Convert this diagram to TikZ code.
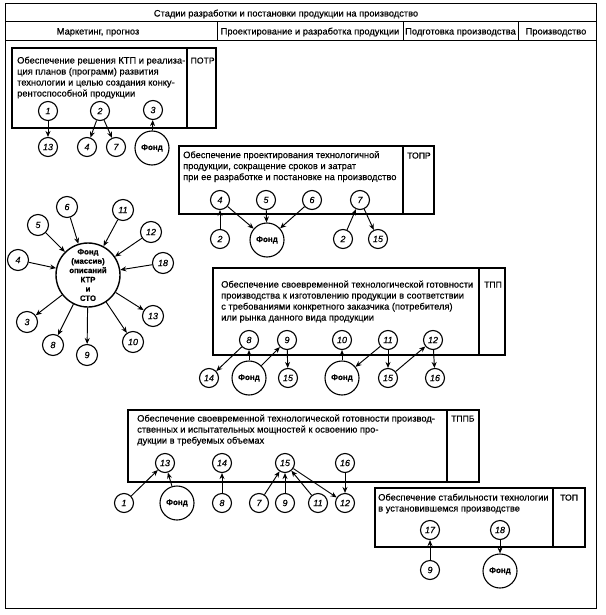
\documentclass[tikz,border=0pt]{standalone}
\usepackage{fontspec}
\setmainfont{Liberation Sans}[FakeBold=0.5]
\usetikzlibrary{arrows.meta}
\newcommand\txtsize{\fontsize{9.3}{11}\selectfont}
\newcommand\lblsize{\fontsize{8.6}{10}\selectfont}
\begin{document}
\begin{tikzpicture}[x=1pt,y=-1pt,
  frame/.style={line width=1pt},
  boxline/.style={line width=1.2pt},
  btext/.style={anchor=north west, inner sep=0pt, align=left, font=\txtsize},
  blabel/.style={anchor=base west, inner sep=0pt, font=\lblsize},
  htext/.style={anchor=base, inner sep=0pt, font=\txtsize},
  nc/.style={circle, draw, line width=1.1pt, minimum size=19pt, inner sep=0pt, font=\fontsize{9}{9}\selectfont\itshape},
  ncb/.style={nc, minimum size=21pt},
  fond/.style={circle, draw, line width=1.1pt, minimum size=34pt, inner sep=0pt, font=\fontsize{8}{8}\selectfont\bfseries},
  bigfond/.style={circle, draw, line width=1.4pt, minimum size=64pt, inner sep=0pt, align=center, font=\fontsize{7.8}{9.3}\selectfont\bfseries},
  arr/.style={-{Stealth[length=6pt,width=5pt]}, line width=0.95pt}
]
\useasboundingbox (0,0) rectangle (605,615);
% ---------- frame and header ----------
\draw[frame] (5,4) rectangle (596,608);
\draw[frame] (5,22) -- (596,22);
\draw[frame] (5,41) -- (596,41);
\draw[frame] (217,22) -- (217,41);
\draw[frame] (403,22) -- (403,41);
\draw[frame] (518,22) -- (518,41);
\node[htext] (h0) at (286,16.5) {Стадии разработки и постановки продукции на производство};
\node[htext] (h1) at (98,34.5) {Маркетинг, прогноз};
\node[htext] (h2) at (310,34.5) {Проектирование и разработка продукции};
\node[htext] (h3) at (460.5,34.5) {Подготовка производства};
\node[htext] (h4) at (556,34.5) {Производство};
% ---------- ПОТР ----------
\draw[boxline] (12,48) rectangle (216,128);
\draw[boxline] (187,48) -- (187,128);
\node[btext] (t1) at (17,56.5) {Обеспечение решения КТП и реализа-\\ция планов (программ) развития\\технологии и целью создания конку-\\рентоспособной продукции};
\node[blabel] (l1) at (190.5,63.5) {ПОТР};
\node[nc] (p1) at (48,111) {1};
\node[nc] (p2) at (100,111) {2};
\node[nc] (p3) at (153,110) {3};
\node[nc] (p13) at (48,147) {13};
\node[nc] (p4) at (87,147) {4};
\node[nc] (p7) at (116,147) {7};
\node[fond] (pf) at (152,148) {Фонд};
\draw[arr] (p1) -- (p13);
\draw[arr] (p2) -- (p4);
\draw[arr] (p2) -- (p7);
\draw[arr] (pf) -- (p3);
% ---------- ТОПР ----------
\draw[boxline] (179,146) rectangle (434,214);
\draw[boxline] (403,146) -- (403,214);
\node[btext] (t2) at (183,151) {Обеспечение проектирования технологичной\\продукции, сокращение сроков и затрат\\при ее разработке и постановке на производство};
\node[blabel] (l2) at (407,158.5) {ТОПР};
\node[nc] (r4) at (220,200) {4};
\node[nc] (r5) at (266,200) {5};
\node[nc] (r6) at (312,200) {6};
\node[nc] (r7) at (360,200) {7};
\node[nc] (r2a) at (220,239) {2};
\node[fond] (rf) at (267,240) {Фонд};
\node[nc] (r2b) at (343,239) {2};
\node[nc] (r15) at (378,239) {15};
\draw[arr] (r2a) -- (r4);
\draw[arr] (r4) -- (rf);
\draw[arr] (r5) -- (rf);
\draw[arr] (r6) -- (rf);
\draw[arr] (r2b) -- (r7);
\draw[arr] (r7) -- (r15);
% ---------- central fund ----------
\node[bigfond] (F) at (88,275) {Фонд\\(массив)\\описаний\\КТР\\и\\СТО};
\node[ncb] (f6) at (67,207) {6};
\node[ncb] (f5) at (38,225) {5};
\node[ncb] (f4) at (18,260) {4};
\node[ncb] (f11) at (123,210) {11};
\node[ncb] (f12) at (151,232) {12};
\node[ncb] (f18) at (163,263) {18};
\node[ncb] (f13) at (153,316) {13};
\node[ncb] (f10) at (133,342) {10};
\node[ncb] (f9) at (87,355) {9};
\node[ncb] (f8) at (53,345) {8};
\node[ncb] (f3) at (27,322) {3};
\draw[arr] (f6) -- (F);
\draw[arr] (f5) -- (F);
\draw[arr] (f4) -- (F);
\draw[arr] (f11) -- (F);
\draw[arr] (f12) -- (F);
\draw[arr] (f18) -- (F);
\draw[arr] (F) -- (f13);
\draw[arr] (F) -- (f10);
\draw[arr] (F) -- (f9);
\draw[arr] (F) -- (f8);
\draw[arr] (F) -- (f3);
% ---------- ТПП ----------
\draw[boxline] (213,268) rectangle (505,355);
\draw[boxline] (479,268) -- (479,355);
\node[btext] (t3) at (221,280.5) {Обеспечение своевременной технологической готовности\\производства к изготовлению продукции в соответствии\\с требованиями конкретного заказчика (потребителя)\\или рынка данного вида продукции};
\node[blabel] (l3) at (484,287.5) {ТПП};
\node[nc] (s8) at (249,340) {8};
\node[nc] (s9) at (287,340) {9};
\node[nc] (s10) at (342,340) {10};
\node[nc] (s11) at (388,340) {11};
\node[nc] (s12) at (433,340) {12};
\node[nc] (s14) at (209,378) {14};
\node[fond] (sfa) at (249,378) {Фонд};
\node[nc] (s15a) at (288,378) {15};
\node[fond] (sfb) at (342,378) {Фонд};
\node[nc] (s15b) at (388,378) {15};
\node[nc] (s16) at (435,378) {16};
\draw[arr] (s8) -- (s14);
\draw[arr] (sfa) -- (s8);
\draw[arr] (sfa) -- (s9);
\draw[arr] (s9) -- (s15a);
\draw[arr] (sfb) -- (s10);
\draw[arr] (s11) -- (sfb);
\draw[arr] (s11) -- (s15b);
\draw[arr] (s15b) -- (s12);
\draw[arr] (s12) -- (s16);
% ---------- ТППБ ----------
\draw[boxline] (128,410) rectangle (479,482);
\draw[boxline] (447,410) -- (447,482);
\node[btext] (t4) at (137,414.5) {Обеспечение своевременной технологической готовности производ-\\ственных и испытательных мощностей к освоению про-\\дукции в требуемых объемах};
\node[blabel] (l4) at (451,421.5) {ТППБ};
\node[nc] (b13) at (165,463) {13};
\node[nc] (b14) at (222,463) {14};
\node[nc] (b15) at (285,463) {15};
\node[nc] (b16) at (345,463) {16};
\node[nc] (b1) at (124,503) {1};
\node[fond] (bf) at (177,503) {Фонд};
\node[nc] (b8) at (222,503) {8};
\node[nc] (b7) at (259,503) {7};
\node[nc] (b9) at (285,503) {9};
\node[nc] (b11) at (318,503) {11};
\node[nc] (b12) at (345,503) {12};
\draw[arr] (b1) -- (b13);
\draw[arr] (bf) -- (b13);
\draw[arr] (b8) -- (b14);
\draw[arr] (b7) -- (b15);
\draw[arr] (b9) -- (b15);
\draw[arr] (b11) -- (b15);
\draw[arr] (b15) -- (b12);
\draw[arr] (b16) -- (b12);
% ---------- ТОП ----------
\draw[boxline] (375,488) rectangle (585,547);
\draw[boxline] (553,488) -- (553,547);
\node[btext] (t5) at (378,493.5) {Обеспечение стабильности технологии\\в установившемся производстве};
\node[blabel] (l5) at (560,500.5) {ТОП};
\node[nc] (o17) at (430,530) {17};
\node[nc] (o18) at (500,530) {18};
\node[nc] (o9) at (430,570) {9};
\node[fond] (of) at (500,571) {Фонд};
\draw[arr] (o9) -- (o17);
\draw[arr] (o18) -- (of);
\end{tikzpicture}
\end{document}
